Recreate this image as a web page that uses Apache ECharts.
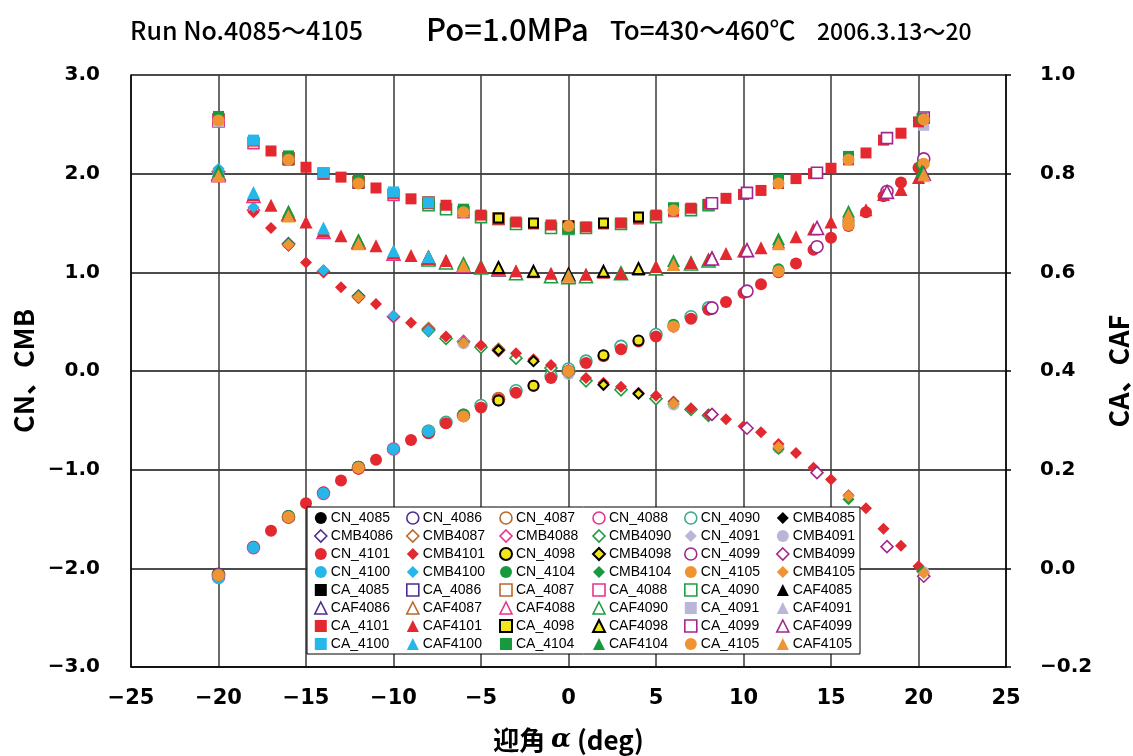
<!DOCTYPE html>
<html><head><meta charset="utf-8">
<script src="https://cdn.jsdelivr.net/npm/echarts@6/dist/echarts.min.js"></script>
<style>html,body{margin:0;padding:0;background:#fff}#c{width:1133px;height:756px}</style>
</head><body><div id="c"></div>
<script>
// ---------- tick labels ----------
const xTicks = [-25,-20,-15,-10,-5,0,5,10,15,20,25];
const leftTicks = [-3,-2,-1,0,1,2,3];
const rightTicks = [-0.2,0,0.2,0.4,0.6,0.8,1.0];

// ---------- data (angle of attack, deg) ----------
const A_4085 = [-20,-16,-12,-8,0];
const CN_4085 = [-2.07,-1.47,-0.97,-0.61,0.01];
const CMB_4085 = [2.01,1.28,0.75,0.42,-0.01];
const CA_4085 = [0.905,0.828,0.781,0.742,0.690];
const CAF_4085 = [0.798,0.716,0.660,0.630,0.594];

const A_4086 = [-20,-16,-12,-8,-4,0];
const CN_4086 = [-2.06,-1.48,-0.98,-0.62,-0.29,0.00];
const CMB_4086 = [2.02,1.29,0.76,0.42,0.21,-0.01];
const CA_4086 = [0.908,0.830,0.782,0.741,0.708,0.692];
const CAF_4086 = [0.800,0.718,0.661,0.629,0.606,0.594];

const A_4087 = [-20,-16,-12,-8,-4,0];
const CN_4087 = [-2.07,-1.48,-0.98,-0.61,-0.28,0.00];
const CMB_4087 = [2.02,1.28,0.75,0.43,0.22,0.00];
const CA_4087 = [0.910,0.831,0.783,0.741,0.709,0.693];
const CAF_4087 = [0.801,0.719,0.662,0.630,0.607,0.595];

const A_4088 = [-20,-18,-14,-10,-6,0];
const CN_4088 = [-2.09,-1.79,-1.24,-0.79,-0.45,0.00];
const CMB_4088 = [2.02,1.63,1.01,0.55,0.30,0.00];
const CA_4088 = [0.906,0.862,0.800,0.757,0.722,0.690];
const CAF_4088 = [0.797,0.755,0.682,0.638,0.614,0.592];

const A_4090 = [-8,-7,-5,-3,-1,0,1,3,5,7,8];
const CN_4090 = [-0.61,-0.52,-0.35,-0.20,-0.05,0.02,0.10,0.25,0.37,0.55,0.64];
const CMB_4090 = [0.41,0.33,0.24,0.13,0.03,-0.02,-0.10,-0.19,-0.28,-0.39,-0.45];
const CA_4090 = [0.736,0.728,0.712,0.698,0.690,0.688,0.690,0.698,0.712,0.726,0.736];
const CAF_4090 = [0.626,0.620,0.610,0.598,0.592,0.590,0.592,0.598,0.608,0.618,0.624];

const A_4091 = [-20,-6,0,6,12,20.3];
const CN_4091 = [-2.08,-0.46,-0.02,0.44,1.01,2.08];
const CMB_4091 = [2.03,0.28,-0.03,-0.34,-0.78,-2.04];
const CA_4091 = [0.905,0.724,0.688,0.722,0.780,0.898];
const CAF_4091 = [0.798,0.616,0.592,0.616,0.660,0.796];

const A_4098 = [-4,-2,0,2,4,8.2];
const CN_4098 = [-0.30,-0.15,0.00,0.16,0.31,0.63];
const CMB_4098 = [0.21,0.10,0.00,-0.14,-0.23,-0.44];
const CA_4098 = [0.710,0.700,0.694,0.700,0.712,0.741];
const CAF_4098 = [0.610,0.602,0.596,0.602,0.608,0.628];

const A_4099 = [8.2,10.2,14.2,18.2,20.3];
const CN_4099 = [0.64,0.81,1.26,1.82,2.15];
const CMB_4099 = [-0.44,-0.58,-1.03,-1.78,-2.08];
const CA_4099 = [0.740,0.761,0.802,0.872,0.914];
const CAF_4099 = [0.628,0.645,0.690,0.763,0.800];

const A_4100 = [-20,-18,-14,-10,-8];
const CN_4100 = [-2.10,-1.79,-1.24,-0.79,-0.61];
const CMB_4100 = [2.05,1.66,1.02,0.56,0.41];
const CA_4100 = [0.914,0.868,0.802,0.763,0.741];
const CAF_4100 = [0.810,0.762,0.690,0.644,0.632];

const A_4101 = [-18,-17,-16,-15,-14,-13,-12,-11,-10,-9,-8,-7,-6,-5,-4,-3,-2,-1,0,1,2,3,4,5,6,7,8,9,10,11,12,13,14,15,16,17,18,19,20];
const CN_4101 = [-1.78,-1.62,-1.48,-1.34,-1.23,-1.11,-0.99,-0.90,-0.79,-0.70,-0.63,-0.53,-0.45,-0.37,-0.29,-0.22,-0.15,-0.07,0.00,0.08,0.15,0.22,0.30,0.35,0.45,0.53,0.62,0.70,0.79,0.88,1.00,1.09,1.23,1.35,1.47,1.61,1.77,1.91,2.06];
const CMB_4101 = [1.61,1.45,1.27,1.10,1.00,0.85,0.74,0.68,0.55,0.49,0.42,0.35,0.29,0.26,0.20,0.18,0.12,0.06,-0.01,-0.07,-0.12,-0.16,-0.22,-0.25,-0.31,-0.38,-0.44,-0.49,-0.56,-0.62,-0.74,-0.83,-0.98,-1.10,-1.26,-1.39,-1.60,-1.77,-1.98];
const CA_4101 = [0.866,0.846,0.830,0.813,0.800,0.793,0.781,0.771,0.760,0.749,0.739,0.736,0.725,0.716,0.708,0.702,0.698,0.696,0.692,0.692,0.698,0.700,0.708,0.716,0.724,0.730,0.738,0.750,0.758,0.766,0.780,0.790,0.800,0.811,0.828,0.842,0.868,0.882,0.905];
const CAF_4101 = [0.758,0.736,0.718,0.702,0.684,0.674,0.660,0.654,0.640,0.634,0.628,0.624,0.617,0.612,0.608,0.603,0.601,0.598,0.596,0.596,0.600,0.598,0.606,0.612,0.616,0.620,0.626,0.638,0.643,0.650,0.662,0.672,0.688,0.702,0.718,0.727,0.758,0.768,0.792];

const A_4104 = [-20,-16,-12,-6,0,6,12,16,20.2];
const CN_4104 = [-2.07,-1.47,-0.97,-0.44,0.00,0.47,1.03,1.50,2.09];
const CMB_4104 = [2.02,1.29,0.76,0.29,-0.02,-0.33,-0.79,-1.30,-2.03];
const CA_4104 = [0.916,0.836,0.787,0.728,0.688,0.731,0.788,0.835,0.912];
const CAF_4104 = [0.806,0.724,0.666,0.620,0.594,0.624,0.668,0.724,0.806];

const A_4105 = [-20,-16,-12,-6,0,6,12,16,20.3];
const CN_4105 = [-2.07,-1.48,-0.98,-0.46,0.00,0.45,1.01,1.48,2.10];
const CMB_4105 = [2.00,1.28,0.75,0.28,-0.01,-0.33,-0.77,-1.27,-2.05];
const CA_4105 = [0.908,0.828,0.780,0.722,0.694,0.726,0.780,0.828,0.910];
const CAF_4105 = [0.796,0.714,0.658,0.614,0.592,0.616,0.658,0.716,0.798];

// legend order (row-major as in the chart)
const legendNames = [
 'CN_4085','CN_4086','CN_4087','CN_4088','CN_4090','CMB4085',
 'CMB4086','CMB4087','CMB4088','CMB4090','CN_4091','CMB4091',
 'CN_4101','CMB4101','CN_4098','CMB4098','CN_4099','CMB4099',
 'CN_4100','CMB4100','CN_4104','CMB4104','CN_4105','CMB4105',
 'CA_4085','CA_4086','CA_4087','CA_4088','CA_4090','CAF4085',
 'CAF4086','CAF4087','CAF4088','CAF4090','CA_4091','CAF4091',
 'CA_4101','CAF4101','CA_4098','CAF4098','CA_4099','CAF4099',
 'CA_4100','CAF4100','CA_4104','CAF4104','CA_4105','CAF4105'
];

const runs = {
 '4085':{a:A_4085,CN:CN_4085,CMB:CMB_4085,CA:CA_4085,CAF:CAF_4085},
 '4086':{a:A_4086,CN:CN_4086,CMB:CMB_4086,CA:CA_4086,CAF:CAF_4086},
 '4087':{a:A_4087,CN:CN_4087,CMB:CMB_4087,CA:CA_4087,CAF:CAF_4087},
 '4088':{a:A_4088,CN:CN_4088,CMB:CMB_4088,CA:CA_4088,CAF:CAF_4088},
 '4090':{a:A_4090,CN:CN_4090,CMB:CMB_4090,CA:CA_4090,CAF:CAF_4090},
 '4091':{a:A_4091,CN:CN_4091,CMB:CMB_4091,CA:CA_4091,CAF:CAF_4091},
 '4098':{a:A_4098,CN:CN_4098,CMB:CMB_4098,CA:CA_4098,CAF:CAF_4098},
 '4099':{a:A_4099,CN:CN_4099,CMB:CMB_4099,CA:CA_4099,CAF:CAF_4099},
 '4100':{a:A_4100,CN:CN_4100,CMB:CMB_4100,CA:CA_4100,CAF:CAF_4100},
 '4101':{a:A_4101,CN:CN_4101,CMB:CMB_4101,CA:CA_4101,CAF:CAF_4101},
 '4104':{a:A_4104,CN:CN_4104,CMB:CMB_4104,CA:CA_4104,CAF:CAF_4104},
 '4105':{a:A_4105,CN:CN_4105,CMB:CMB_4105,CA:CA_4105,CAF:CAF_4105}
};

const runStyle = {
 '4085':{c:'#000000',open:false},
 '4086':{c:'#4e2d92',open:true},
 '4087':{c:'#b8692c',open:true},
 '4088':{c:'#e6358b',open:true},
 '4090':{c:'#1e9e40',open:true,cn:'#3bab8f'},
 '4091':{c:'#b9b6da',open:false},
 '4098':{c:'#f2e61c',open:false,border:'#000000'},
 '4099':{c:'#a3268f',open:true},
 '4100':{c:'#25b6ea',open:false},
 '4101':{c:'#e3282f',open:false},
 '4104':{c:'#179a3e',open:false},
 '4105':{c:'#f09433',open:false}
};

function parse(name){
  if (name.startsWith('CN_')) return ['CN', name.slice(3)];
  if (name.startsWith('CMB')) return ['CMB', name.slice(3)];
  if (name.startsWith('CAF')) return ['CAF', name.slice(3)];
  return ['CA', name.slice(3)];
}
const baseSym = {CN:'circle', CMB:'diamond', CA:'rect', CAF:'triangle'};
const symSize = {circle:12, diamond:12, rect:11, triangle:13};

const series = legendNames.map(name => {
  const [q, run] = parse(name);
  const r = runs[run], st = runStyle[run];
  let sym = baseSym[q];
  if (name === 'CN_4091') sym = 'diamond';
  if (name === 'CMB4091') sym = 'circle';
  if (name === 'CA_4105') sym = 'circle';
  let col = st.c;
  if (run === '4090' && q === 'CN') col = st.cn;
  let itemStyle;
  let size = symSize[sym];
  if (st.open) itemStyle = {color:'#ffffff', borderColor:col, borderWidth:1.6, opacity:1};
  else if (st.border) { itemStyle = {color:col, borderColor:st.border, borderWidth:2, opacity:1}; size -= 2; }
  else itemStyle = {color:col, borderWidth:0, opacity:1};
  return {
    name, type:'scatter', yAxisIndex: (q==='CA'||q==='CAF') ? 1 : 0,
    symbol: sym, symbolSize: size, itemStyle,
    emphasis:{disabled:true}, animation:false,
    data: r.a.map((a,i) => [a, r[q][i]])
  };
});

const minus = s => s.replace('-', '\u2212');
const labelFont = {fontFamily:'DejaVu Sans', fontWeight:'bold', fontSize:20, color:'#000'};

const colX = [320, 412, 505, 598, 690, 782];
const legends = colX.map((x, ci) => ({
  orient:'vertical', left: x - 6, top: 509, padding:0,
  itemWidth:12, itemHeight:12, itemGap:0, selectedMode:false, z:20,
  itemStyle:{borderWidth:'inherit'},
  textStyle:{fontFamily:'Liberation Sans', fontSize:14, color:'#000', lineHeight:18, padding:[0,0,0,-1]},
  data: [0,1,2,3,4,5,6,7].map(r => legendNames[r*6 + ci])
}));

const chart = echarts.init(document.getElementById('c'), null, {renderer:'canvas'});
chart.setOption({
  animation:false,
  backgroundColor:'#ffffff',
  grid:{left:131, right:127, top:75, bottom:89, containLabel:false, outerBoundsMode:'none'},
  xAxis:{
    type:'value', min:xTicks[0], max:xTicks[xTicks.length-1], interval:5,
    name:'{a|迎角 }{b|α}{a| (deg)}', nameLocation:'middle', nameGap:60,
    nameTextStyle:{rich:{
      a:{fontFamily:'Noto Sans CJK JP', fontWeight:'bold', fontSize:26, color:'#000'},
      b:{fontFamily:'DejaVu Serif', fontStyle:'italic', fontWeight:'bold', fontSize:26, color:'#000'}
    }},
    axisLine:{show:true, onZero:false, lineStyle:{color:'#000', width:1.5}},
    axisTick:{show:false},
    axisLabel:Object.assign({}, labelFont, {fontSize:21, margin:21, formatter:v => minus(String(v))}),
    splitLine:{show:true, lineStyle:{color:'#3a3a3a', width:1.5}}
  },
  yAxis:[{
    type:'value', min:leftTicks[0], max:leftTicks[leftTicks.length-1], interval:1, position:'left',
    name:'CN、CMB', nameLocation:'middle', nameGap:94, nameRotate:90,
    nameTextStyle:{fontFamily:'Noto Sans CJK JP', fontWeight:'bold', fontSize:27, color:'#000'},
    axisLine:{show:true, onZero:false, lineStyle:{color:'#000', width:1.5}},
    axisTick:{show:false},
    axisLabel:Object.assign({margin:31, formatter:v => minus(v.toFixed(1))}, labelFont),
    splitLine:{show:true, lineStyle:{color:'#111', width:1.5}}
  },{
    type:'value', min:rightTicks[0], max:rightTicks[rightTicks.length-1], interval:0.2, position:'right',
    name:'CA、CAF', nameLocation:'middle', nameGap:99, nameRotate:90,
    nameTextStyle:{fontFamily:'Noto Sans CJK JP', fontWeight:'bold', fontSize:27, color:'#000'},
    axisLine:{show:true, onZero:false, lineStyle:{color:'#000', width:1.5}},
    axisTick:{show:true, inside:false, length:5, lineStyle:{color:'#000', width:1.5}},
    axisLabel:Object.assign({margin:34, formatter:v => Math.abs(v)<1e-9 ? '0.0' : minus(v.toFixed(1))}, labelFont),
    splitLine:{show:false}
  }],
  legend: legends,
  graphic:[
    {type:'rect', z:10, shape:{x:307, y:507, width:553, height:147}, style:{fill:'#fff', stroke:'#000', lineWidth:1}},
    {type:'text', z:10, x:130, y:30, style:{text:'Run No.4085～4105', font:'500 25px "Noto Sans CJK JP"', fill:'#000', textVerticalAlign:'middle'}},
    {type:'text', z:10, x:426, y:29, style:{text:'Po=1.0MPa', font:'500 31px "Noto Sans CJK JP"', fill:'#000', textVerticalAlign:'middle'}},
    {type:'text', z:10, x:610, y:30, style:{text:'To=430～460℃', font:'500 26px "Noto Sans CJK JP"', fill:'#000', textVerticalAlign:'middle'}},
    {type:'text', z:10, x:817, y:31, style:{text:'2006.3.13～20', font:'500 23px "Noto Sans CJK JP"', fill:'#000', textVerticalAlign:'middle'}}
  ],
  series
});
</script></body></html>
